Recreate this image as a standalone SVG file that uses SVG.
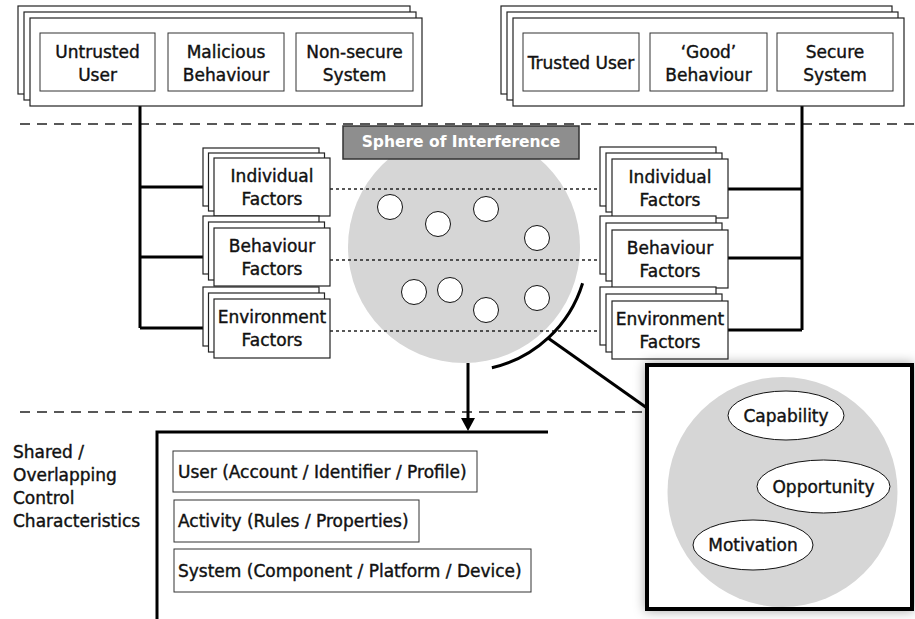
<svg xmlns="http://www.w3.org/2000/svg" width="915" height="619" viewBox="0 0 915 619">
<defs>
<style>
text{font-family:"DejaVu Sans","Liberation Sans",sans-serif;font-size:17px;fill:#111;stroke:#111;stroke-width:0.4}
.c{text-anchor:middle}
.box{fill:#fff;stroke:#222;stroke-width:1.2}
.in{fill:#fff;stroke:#333;stroke-width:1}
.thick{fill:none;stroke:#000;stroke-width:3}
.dash{fill:none;stroke:#222;stroke-width:1.5;stroke-dasharray:10 7}
.dot{fill:none;stroke:#222;stroke-width:1.5;stroke-dasharray:3 3}
.gray{fill:#d6d6d6}
.dotc{fill:#fff;stroke:#111;stroke-width:1}
.ell{fill:#fff;stroke:#111;stroke-width:1}
.lbl{font-family:"DejaVu Sans","Liberation Sans",sans-serif;font-weight:bold;font-size:15.5px;fill:#fff;stroke:none}
</style>
<marker id="arr" markerWidth="13" markerHeight="14" refX="0" refY="7" orient="auto" markerUnits="userSpaceOnUse" viewBox="0 0 13 14">
<path d="M0,0 L13,7 L0,14 z" fill="#000"/>
</marker>
<filter id="sh" x="-10%" y="-10%" width="130%" height="130%">
<feDropShadow dx="0" dy="0" stdDeviation="6" flood-color="#000" flood-opacity="0.35"/>
</filter>
</defs>

<!-- separators -->
<g id="separators">
<line class="dash" x1="20" y1="124" x2="915" y2="124"/>
<line class="dash" x1="20" y1="412" x2="646" y2="412"/>
</g>

<!-- sphere of interference -->
<g id="sphere">
<circle class="gray" cx="464" cy="247" r="116"/>
</g>

<!-- connectors -->
<g id="connectors">
<line class="dot" x1="330" y1="189" x2="600" y2="189"/>
<line class="dot" x1="330" y1="260" x2="600" y2="260"/>
<line class="dot" x1="330" y1="331" x2="600" y2="331"/>
<path class="thick" d="M140,106 V328 M140,187 H203 M140,257 H203 M140,328 H203"/>
<path class="thick" d="M802,106 V330 M728,189 H802 M728,258 H802 M728,330 H802"/>
<path class="thick" d="M582.6,283.3 A124,124 0 0,1 491.9,367.8"/>
<line class="thick" x1="548" y1="338" x2="647" y2="408"/>
<line class="thick" x1="468" y1="363" x2="468" y2="418" marker-end="url(#arr)"/>
</g>

<g id="sphere-dots">
<circle class="dotc" cx="390" cy="207" r="12.5"/>
<circle class="dotc" cx="438" cy="224" r="12.5"/>
<circle class="dotc" cx="486" cy="209" r="12.5"/>
<circle class="dotc" cx="537" cy="238" r="12.5"/>
<circle class="dotc" cx="414" cy="292" r="12.5"/>
<circle class="dotc" cx="450" cy="290" r="12.5"/>
<circle class="dotc" cx="486" cy="310" r="12.5"/>
<circle class="dotc" cx="537" cy="298" r="12.5"/>
</g>

<g id="sphere-label">
<rect x="343" y="126" width="236" height="33" fill="#8e8e8e" stroke="#333" stroke-width="1.5"/>
<text class="lbl" x="461" y="147" text-anchor="middle">Sphere of Interference</text>
</g>

<!-- top left group -->
<g id="untrusted-group">
<rect class="box" x="18" y="6" width="392" height="88"/>
<rect class="box" x="24" y="12" width="392" height="88"/>
<rect class="box" x="30" y="18" width="392" height="88"/>
</g>
<g id="untrusted-user">
<rect class="in" x="40" y="33" width="115" height="58"/>
<text class="c" x="97.5" y="58">Untrusted</text>
<text class="c" x="97.5" y="81">User</text>
</g>
<g id="malicious-behaviour">
<rect class="in" x="168" y="33" width="116" height="58"/>
<text class="c" x="226" y="58">Malicious</text>
<text class="c" x="226" y="81">Behaviour</text>
</g>
<g id="non-secure-system">
<rect class="in" x="296" y="33" width="117" height="58"/>
<text class="c" x="354.5" y="58">Non-secure</text>
<text class="c" x="354.5" y="81">System</text>
</g>

<!-- top right group -->
<g id="trusted-group">
<rect class="box" x="501" y="6" width="391" height="88"/>
<rect class="box" x="507" y="12" width="391" height="88"/>
<rect class="box" x="513" y="18" width="391" height="88"/>
</g>
<g id="trusted-user">
<rect class="in" x="523" y="33" width="116" height="58"/>
<text class="c" x="581" y="69">Trusted User</text>
</g>
<g id="good-behaviour">
<rect class="in" x="650" y="33" width="117" height="58"/>
<text class="c" x="708.5" y="58">‘Good’</text>
<text class="c" x="708.5" y="81">Behaviour</text>
</g>
<g id="secure-system">
<rect class="in" x="777" y="33" width="116" height="58"/>
<text class="c" x="835" y="58">Secure</text>
<text class="c" x="835" y="81">System</text>
</g>

<!-- left factors -->
<g id="left-individual">
<rect class="box" x="203" y="148" width="116" height="58"/>
<rect class="box" x="208.5" y="153" width="116" height="58"/>
<rect class="box" x="214" y="158" width="116" height="58"/>
<text class="c" x="272" y="182">Individual</text>
<text class="c" x="272" y="205">Factors</text>
</g>
<g id="left-behaviour">
<rect class="box" x="203" y="216" width="116" height="58"/>
<rect class="box" x="208.5" y="222" width="116" height="58"/>
<rect class="box" x="214" y="228" width="116" height="58"/>
<text class="c" x="272" y="252">Behaviour</text>
<text class="c" x="272" y="275">Factors</text>
</g>
<g id="left-environment">
<rect class="box" x="203" y="287" width="116" height="59"/>
<rect class="box" x="208.5" y="293" width="116" height="59"/>
<rect class="box" x="214" y="299" width="116" height="59"/>
<text class="c" x="272" y="323">Environment</text>
<text class="c" x="272" y="346">Factors</text>
</g>

<!-- right factors -->
<g id="right-individual">
<rect class="box" x="600" y="147" width="116" height="59"/>
<rect class="box" x="606" y="153" width="116" height="59"/>
<rect class="box" x="612" y="159" width="116" height="59"/>
<text class="c" x="670" y="183">Individual</text>
<text class="c" x="670" y="206">Factors</text>
</g>
<g id="right-behaviour">
<rect class="box" x="600" y="216" width="116" height="58"/>
<rect class="box" x="606" y="223" width="116" height="58"/>
<rect class="box" x="612" y="230" width="116" height="58"/>
<text class="c" x="670" y="254">Behaviour</text>
<text class="c" x="670" y="277">Factors</text>
</g>
<g id="right-environment">
<rect class="box" x="600" y="287" width="116" height="58"/>
<rect class="box" x="606" y="294" width="116" height="58"/>
<rect class="box" x="612" y="301" width="116" height="58"/>
<text class="c" x="670" y="325">Environment</text>
<text class="c" x="670" y="348">Factors</text>
</g>

<!-- COM-B detail box -->
<g id="detail-box">
<rect x="647" y="365" width="265" height="244" fill="#fff" stroke="#000" stroke-width="4" filter="url(#sh)"/>
<circle class="gray" cx="782.5" cy="492" r="115"/>
</g>
<g id="capability">
<ellipse class="ell" cx="786" cy="415.5" rx="58" ry="24.5"/>
<text class="c" x="786" y="421.5">Capability</text>
</g>
<g id="opportunity">
<ellipse class="ell" cx="823.5" cy="486.5" rx="66.5" ry="26.5"/>
<text class="c" x="823.5" y="492.5">Opportunity</text>
</g>
<g id="motivation">
<ellipse class="ell" cx="753" cy="545" rx="60" ry="25"/>
<text class="c" x="753" y="551">Motivation</text>
</g>

<!-- shared controls -->
<g id="shared-label">
<text x="13" y="458">Shared /</text>
<text x="13" y="481">Overlapping</text>
<text x="13" y="504">Control</text>
<text x="13" y="527">Characteristics</text>
</g>
<g id="shared-bracket">
<path class="thick" d="M157,619 V432 H548" stroke-width="3.5"/>
</g>
<g id="user-control">
<rect class="in" x="173" y="451" width="304" height="41"/>
<text x="178" y="478">User (Account / Identifier / Profile)</text>
</g>
<g id="activity-control">
<rect class="in" x="174" y="500" width="245" height="42"/>
<text x="178" y="527">Activity (Rules / Properties)</text>
</g>
<g id="system-control">
<rect class="in" x="174" y="549" width="357" height="43"/>
<text x="178" y="577">System (Component / Platform / Device)</text>
</g>
</svg>
